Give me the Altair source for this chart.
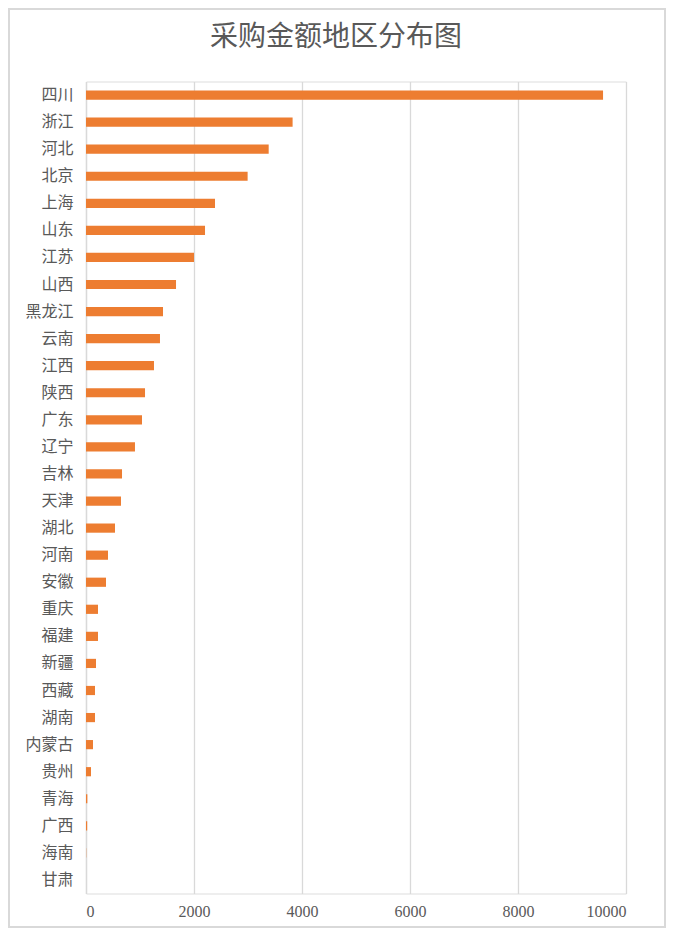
import altair as alt
import pandas as pd

regions = ["四川", "浙江", "河北", "北京", "上海", "山东", "江苏", "山西", "黑龙江", "云南",
           "江西", "陕西", "广东", "辽宁", "吉林", "天津", "湖北", "河南", "安徽", "重庆",
           "福建", "新疆", "西藏", "湖南", "内蒙古", "贵州", "青海", "广西", "海南", "甘肃"]
amounts = [9575, 3826, 3383, 2993, 2389, 2204, 2000, 1667, 1426, 1370,
           1259, 1093, 1037, 907, 667, 648, 537, 407, 370, 222,
           222, 185, 167, 167, 130, 93, 25, 22, 4, 0]

df = pd.DataFrame({"region": regions, "amount": amounts})

FONT = "Liberation Serif, Noto Sans CJK SC, serif"
W, H = 540, 812

bars = alt.Chart(df).mark_bar(color="#ED7D31").encode(
    x=alt.X("amount:Q", scale=alt.Scale(domain=[0, 10000], nice=False),
            axis=alt.Axis(values=[0, 2000, 4000, 6000, 8000, 10000], title=None, format="d",
                          grid=True, gridColor="#D9D9D9", gridWidth=1.3,
                          domain=False, ticks=False, labelFont=FONT, labelFontSize=16,
                          labelColor="#595959", labelPadding=10)),
    y=alt.Y("region:N", sort=regions, scale=alt.Scale(paddingInner=0.66, paddingOuter=0.33),
            axis=alt.Axis(title=None, domain=True, domainColor="#D9D9D9", domainWidth=1.3,
                          ticks=False, labelFont=FONT, labelFontSize=16,
                          labelColor="#595959", labelPadding=13)),
)

border = alt.Chart(df).mark_rect(fill=None, stroke="#D9D9D9", strokeWidth=2).encode(
    x=alt.value(-77), x2=alt.value(W + 39), y=alt.value(-72.5), y2=alt.value(H + 33.5)
).transform_filter("datum.region == '四川'")

chart = alt.layer(border, bars).properties(
    width=W, height=H,
    title=alt.Title("采购金额地区分布图", font=FONT, fontSize=28, fontWeight="normal",
                    color="#595959", offset=0, dy=44, dx=-20, frame="group"),
    autosize=alt.AutoSizeParams(type="none"),
    padding={"left": 78, "top": 73.5, "right": 40, "bottom": 34.5},
).configure_view(stroke=None).configure(background="white")

chart.save("out.html", embed_options={"renderer": "svg", "actions": False})
